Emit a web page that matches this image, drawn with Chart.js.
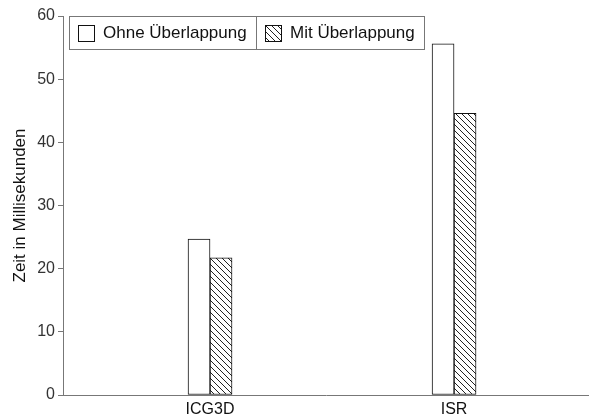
<!DOCTYPE html>
<html>
<head>
<meta charset="utf-8">
<script src="https://cdn.jsdelivr.net/npm/chart.js@4/dist/chart.umd.min.js"></script>
<style>
  html, body { margin: 0; padding: 0; background: #fff; }
  #wrap { width: 589px; height: 419px; }
</style>
</head>
<body>
<div id="wrap"><canvas id="chart"></canvas></div>
<script>
const categories = ['ICG3D', 'ISR'];
const categoryPos = [1, 2];
const seriesNames = ['Ohne Überlappung', 'Mit Überlappung'];
const ohneValues = [24.7, 55.6];
const mitValues = [21.7, 44.6];
const yTicks = [0, 10, 20, 30, 40, 50, 60];

const FONT = '"Liberation Sans", Arial, sans-serif';
const AXIS = '#777';

function hatchPattern() {
    const c = document.createElement('canvas');
    c.width = 6; c.height = 6;
    const g = c.getContext('2d');
    g.fillStyle = '#fff';
    g.fillRect(0, 0, 6, 6);
    g.strokeStyle = '#222';
    g.lineWidth = 1;
    g.beginPath();
    g.moveTo(-1, -1); g.lineTo(7, 7);
    g.moveTo(-1, 5); g.lineTo(1, 7);
    g.moveTo(5, -1); g.lineTo(7, 1);
    g.stroke();
    return g.createPattern(c, 'repeat');
}
const hatch = hatchPattern();

// legend drawn inside the plot, boxed like the original
const boxLegend = {
    id: 'boxLegend',
    afterDraw(chart) {
        const ctx = chart.ctx;
        const x0 = 69, y0 = 16, h = 33;
        const splits = [69, 256, 424];
        ctx.save();
        ctx.fillStyle = '#fff';
        ctx.fillRect(x0, y0, splits[2] - x0, h);
        ctx.strokeStyle = AXIS;
        ctx.lineWidth = 1;
        ctx.strokeRect(x0 + 0.5, y0 + 0.5, splits[2] - x0, h);
        ctx.beginPath();
        ctx.moveTo(splits[1] + 0.5, y0);
        ctx.lineTo(splits[1] + 0.5, y0 + h);
        ctx.stroke();
        ctx.font = '17px ' + FONT;
        ctx.textBaseline = 'middle';
        chart.data.datasets.forEach((ds, i) => {
            const bx = splits[i] + 9, by = y0 + 9;
            ctx.fillStyle = ds.backgroundColor;
            ctx.fillRect(bx, by, 16, 16);
            ctx.strokeStyle = '#111';
            ctx.strokeRect(bx + 0.5, by + 0.5, 16, 16);
            ctx.fillStyle = '#111';
            ctx.fillText(ds.label, bx + 25, y0 + h / 2 + 1);
        });
        ctx.restore();
    }
};

new Chart(document.getElementById('chart'), {
    type: 'bar',
    data: {
        datasets: [
            {
                label: seriesNames[0],
                data: categoryPos.map((x, i) => ({ x: x, y: ohneValues[i] })),
                backgroundColor: '#fff',
                borderColor: '#111',
                borderWidth: 1,
                borderSkipped: false,
                barThickness: 22
            },
            {
                label: seriesNames[1],
                data: categoryPos.map((x, i) => ({ x: x, y: mitValues[i] })),
                backgroundColor: hatch,
                borderColor: '#111',
                borderWidth: 1,
                borderSkipped: false,
                barThickness: 22
            }
        ]
    },
    options: {
        responsive: true,
        maintainAspectRatio: false,
        animation: false,
        layout: { padding: { top: 16, right: 0, left: 0, bottom: 0 } },
        plugins: { legend: { display: false }, tooltip: { enabled: false } },
        scales: {
            x: {
                type: 'linear',
                offset: false,
                min: 0.3975,
                max: 2.553,
                afterBuildTicks: s => { s.ticks = categoryPos.map(v => ({ value: v })); },
                afterFit: s => { s.height = 24; },
                ticks: {
                    callback: v => categories[categoryPos.indexOf(v)] || '',
                    color: '#111',
                    font: { family: FONT, size: 16 },
                    padding: 5,
                    maxRotation: 0
                },
                grid: { display: false, drawTicks: false, offset: false },
                border: { color: AXIS }
            },
            y: {
                min: 0,
                max: 60,
                afterBuildTicks: s => { s.ticks = yTicks.map(v => ({ value: v })); },
                afterFit: s => { s.width = 63; },
                title: {
                    display: true,
                    text: 'Zeit in Millisekunden',
                    color: '#111',
                    font: { family: FONT, size: 17 },
                    padding: { top: 10, bottom: 0 }
                },
                ticks: {
                    color: '#333',
                    font: { family: FONT, size: 16 },
                    padding: 3
                },
                grid: { drawOnChartArea: false, tickLength: 5, color: AXIS },
                border: { color: AXIS }
            }
        }
    },
    plugins: [boxLegend]
});
</script>
</body>
</html>
